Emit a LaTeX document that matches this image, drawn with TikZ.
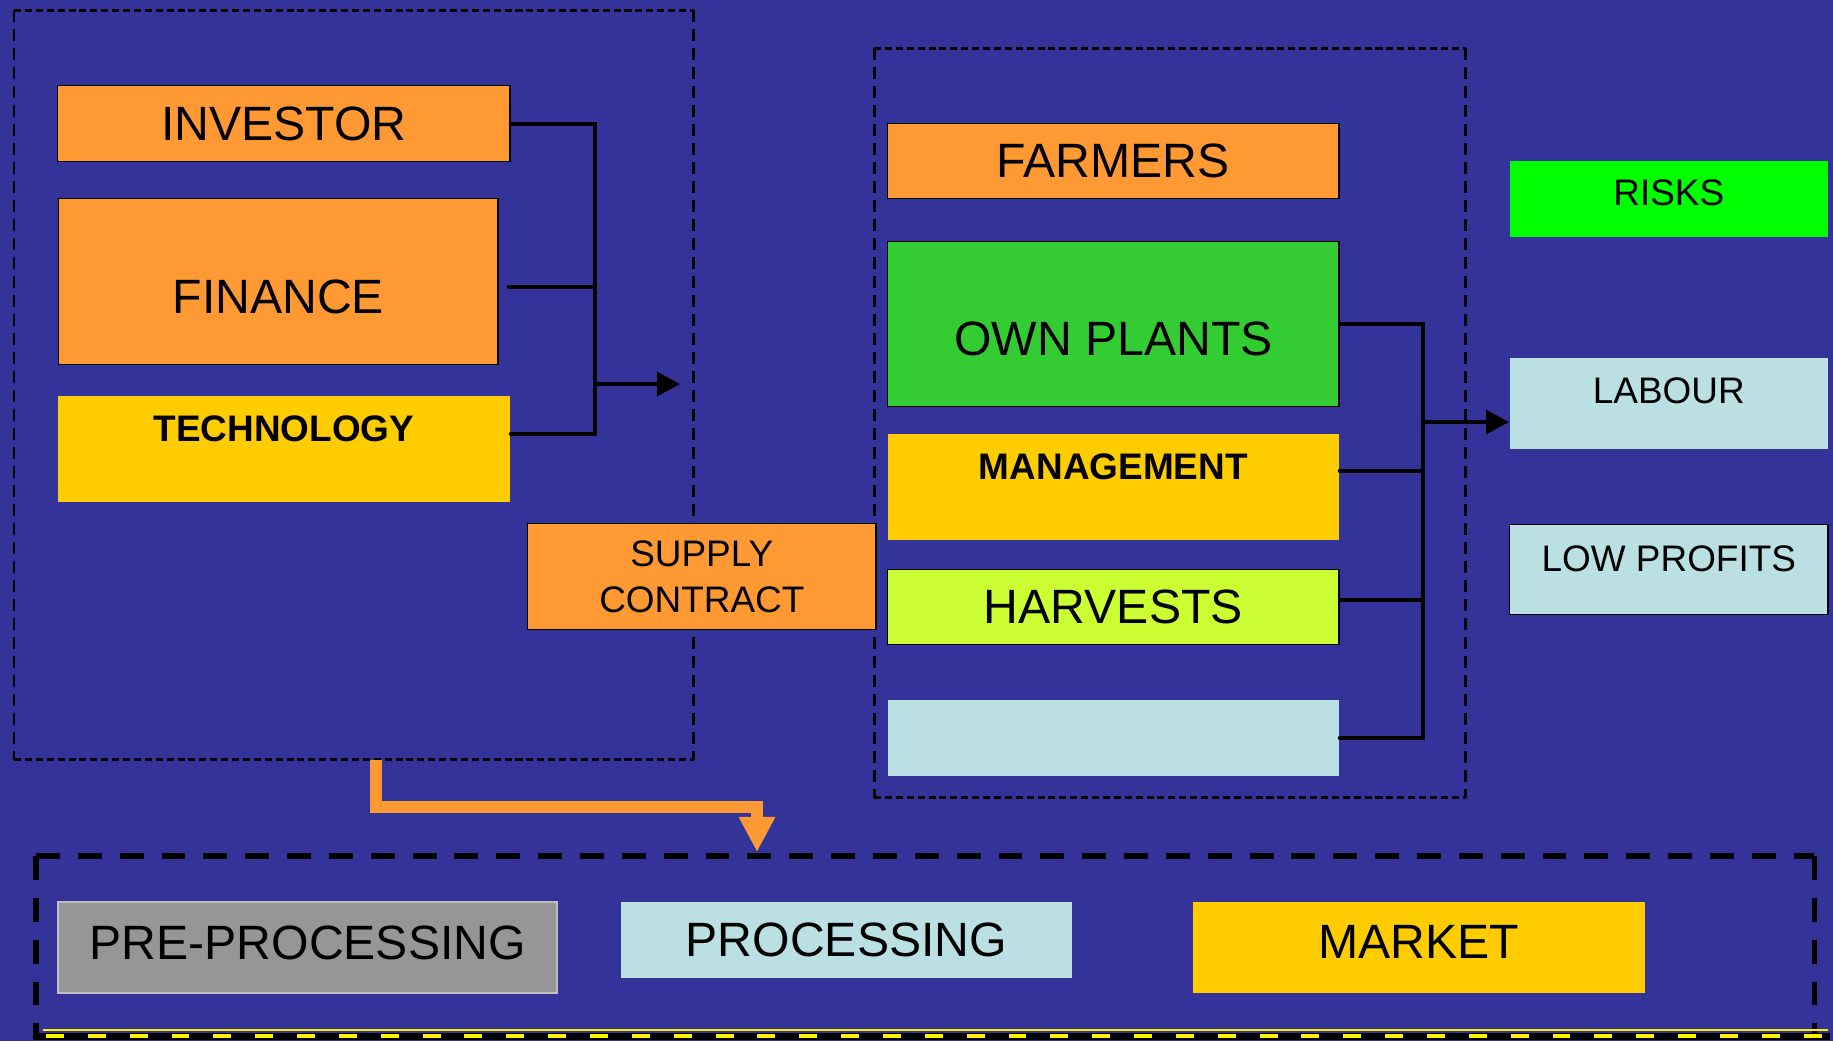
\documentclass[tikz,border=0pt]{standalone}
\usepackage{fontspec}
\setmainfont{Liberation Sans}
\usetikzlibrary{arrows.meta}

\definecolor{bgblue}{HTML}{333399}
\definecolor{orng}{HTML}{FF9933}
\definecolor{gold}{HTML}{FFCC00}
\definecolor{plantgreen}{HTML}{33CC33}
\definecolor{riskgreen}{HTML}{00FF00}
\definecolor{lime}{HTML}{CCFF33}
\definecolor{paleblue}{HTML}{BBE0E3}
\definecolor{midgray}{HTML}{969696}
\definecolor{rimgray}{HTML}{C0C0C0}

\tikzset{
	box/.style={rectangle, inner sep=0pt, anchor=north west, align=center},
	edged/.style={draw=black, line width=0.4pt},
	big/.style={font=\fontsize{13.7pt}{16pt}\selectfont},
	small/.style={font=\fontsize{10.5pt}{13.1pt}\selectfont},
	link/.style={line width=1.1pt, line cap=round},
	arr/.style={line width=1.1pt, -{Triangle[length=6.5pt, width=6.7pt]}},
	hdash/.style={line width=0.85pt, dash pattern=on 2pt off 1.1pt},
	vdash/.style={line width=0.85pt, dash pattern=on 3.4pt off 2pt},
	heavydash/.style={line width=1.45pt, dash pattern=on 6.8pt off 5.1pt},
	flow/.style={orng, line width=3.4pt, -{Triangle[length=10pt, width=9.7pt]}},
}

\begin{document}
\begin{tikzpicture}[x=0.01cm, y=-0.01cm]
	\useasboundingbox (0, 0) rectangle (1833, 1041);
	\fill[bgblue] (0, 0) rectangle (1833, 1041);

	\node[box, minimum width=6.78cm, minimum height=7.48cm] (lframe)at(14, 10) {};
	\node[box, minimum width=5.90cm, minimum height=7.48cm] (rframe)at(874, 48) {};
	\node[box, minimum width=17.76cm, minimum height=1.80cm] (bframe)at(36, 856) {};
	\draw[hdash] (lframe.north west) -- (lframe.north east);
	\draw[hdash] (lframe.south west) -- (lframe.south east);
	\draw[vdash] (lframe.north west) -- (lframe.south west);
	\draw[vdash] (lframe.north east) -- (lframe.south east);
	\draw[hdash] (rframe.north west) -- (rframe.north east);
	\draw[hdash] (rframe.south west) -- (rframe.south east);
	\draw[vdash] (rframe.north west) -- (rframe.south west);
	\draw[vdash] (rframe.north east) -- (rframe.south east);
	\draw[heavydash] (bframe.north west) -- (bframe.north east);
	\draw[heavydash] (bframe.north west) -- (bframe.south west);
	\draw[heavydash] (bframe.north east) -- (bframe.south east);
	\draw[line width=2pt] (33, 1036) -- (1830, 1036);
	\draw[yellow, line width=1.3pt, dash pattern=on 5.1pt off 6.8pt] (46, 1036) -- (1830, 1036);
	\draw[yellow, line width=0.8pt] (43, 1030) -- (1828, 1030);

	\node[box, edged, big, fill=orng, minimum width=4.52cm, minimum height=0.76cm] (inv)at(57, 85) {INVESTOR};
	\node[box, edged, big, fill=orng, minimum width=4.39cm, text height=32.7pt, text depth=14.5pt] (fin)at(58, 198) {FINANCE};
	\node[box, small, fill=gold, minimum width=4.52cm, text height=13.1pt, text depth=17.1pt] (tech)at(57, 395) {\bfseries TECHNOLOGY};
	\node[box, edged, small, fill=orng, minimum width=3.48cm, minimum height=1.06cm] (supply)at(527, 523) {SUPPLY\\CONTRACT};

	\node[box, edged, big, fill=orng, minimum width=4.51cm, minimum height=0.75cm] (farm)at(887, 123) {FARMERS};
	\node[box, edged, big, fill=plantgreen, minimum width=4.51cm, text height=32.4pt, text depth=14.5pt] (plant)at(887, 241) {OWN PLANTS};
	\node[box, small, fill=gold, minimum width=4.51cm, text height=13.1pt, text depth=17.1pt] (mgmt)at(887, 433) {\bfseries MANAGEMENT};
	\node[box, edged, big, fill=lime, minimum width=4.51cm, minimum height=0.75cm] (harv)at(887, 569) {HARVESTS};
	\node[box, fill=paleblue, minimum width=4.51cm, minimum height=0.76cm] (blank)at(887, 699) {};

	\node[box, small, fill=riskgreen, minimum width=3.18cm, text height=12.8pt, text depth=8.8pt] (risk)at(1509, 160) {RISKS};
	\node[box, small, fill=paleblue, minimum width=3.18cm, text height=13.1pt, text depth=12.8pt] (lab)at(1509, 357) {LABOUR};
	\node[box, edged, small, fill=paleblue, minimum width=3.18cm, text height=13.4pt, text depth=12.2pt] (lowp)at(1509, 524) {LOW PROFITS};

	\node[box, big, fill=midgray, draw=rimgray, line width=0.6pt, minimum width=4.99cm, text height=16.2pt, text depth=9.7pt] (pre)at(57, 901) {PRE-PROCESSING};
	\node[box, big, fill=paleblue, minimum width=4.51cm, minimum height=0.76cm] (proc)at(620, 901) {PROCESSING};
	\node[box, big, fill=gold, minimum width=4.52cm, text height=16.2pt, text depth=9.7pt] (mkt)at(1192, 901) {MARKET};

	\coordinate (lbus) at (595, 384);
	\coordinate (lout) at (680, 384);
	\path (fin.east) ++(10, 5) coordinate (finout);
	\path (tech.east) ++(0, -15) coordinate (techout);
	\draw[link] (inv.east) -- (inv.east -| lbus) -- (techout -| lbus) -- (techout);
	\draw[link] (finout) -- (finout -| lbus);
	\draw[arr] (lbus) -- (lout);

	\coordinate (rbus) at (1423, 422);
	\path (mgmt.east) ++(0, -16) coordinate (mgmtout);
	\path (harv.east) ++(0, -7) coordinate (harvout);
	\draw[link] (plant.east) -- (plant.east -| rbus) -- (blank.east -| rbus) -- (blank.east);
	\draw[link] (mgmtout) -- (mgmtout -| rbus);
	\draw[link] (harvout) -- (harvout -| rbus);
	\draw[arr] (rbus) -- (rbus -| lab.west);

	\coordinate (drop) at (376, 807);
	\coordinate (land) at (757, 852);
	\draw[flow] (lframe.south -| drop) -- (drop) -| (land);
\end{tikzpicture}
\end{document}
